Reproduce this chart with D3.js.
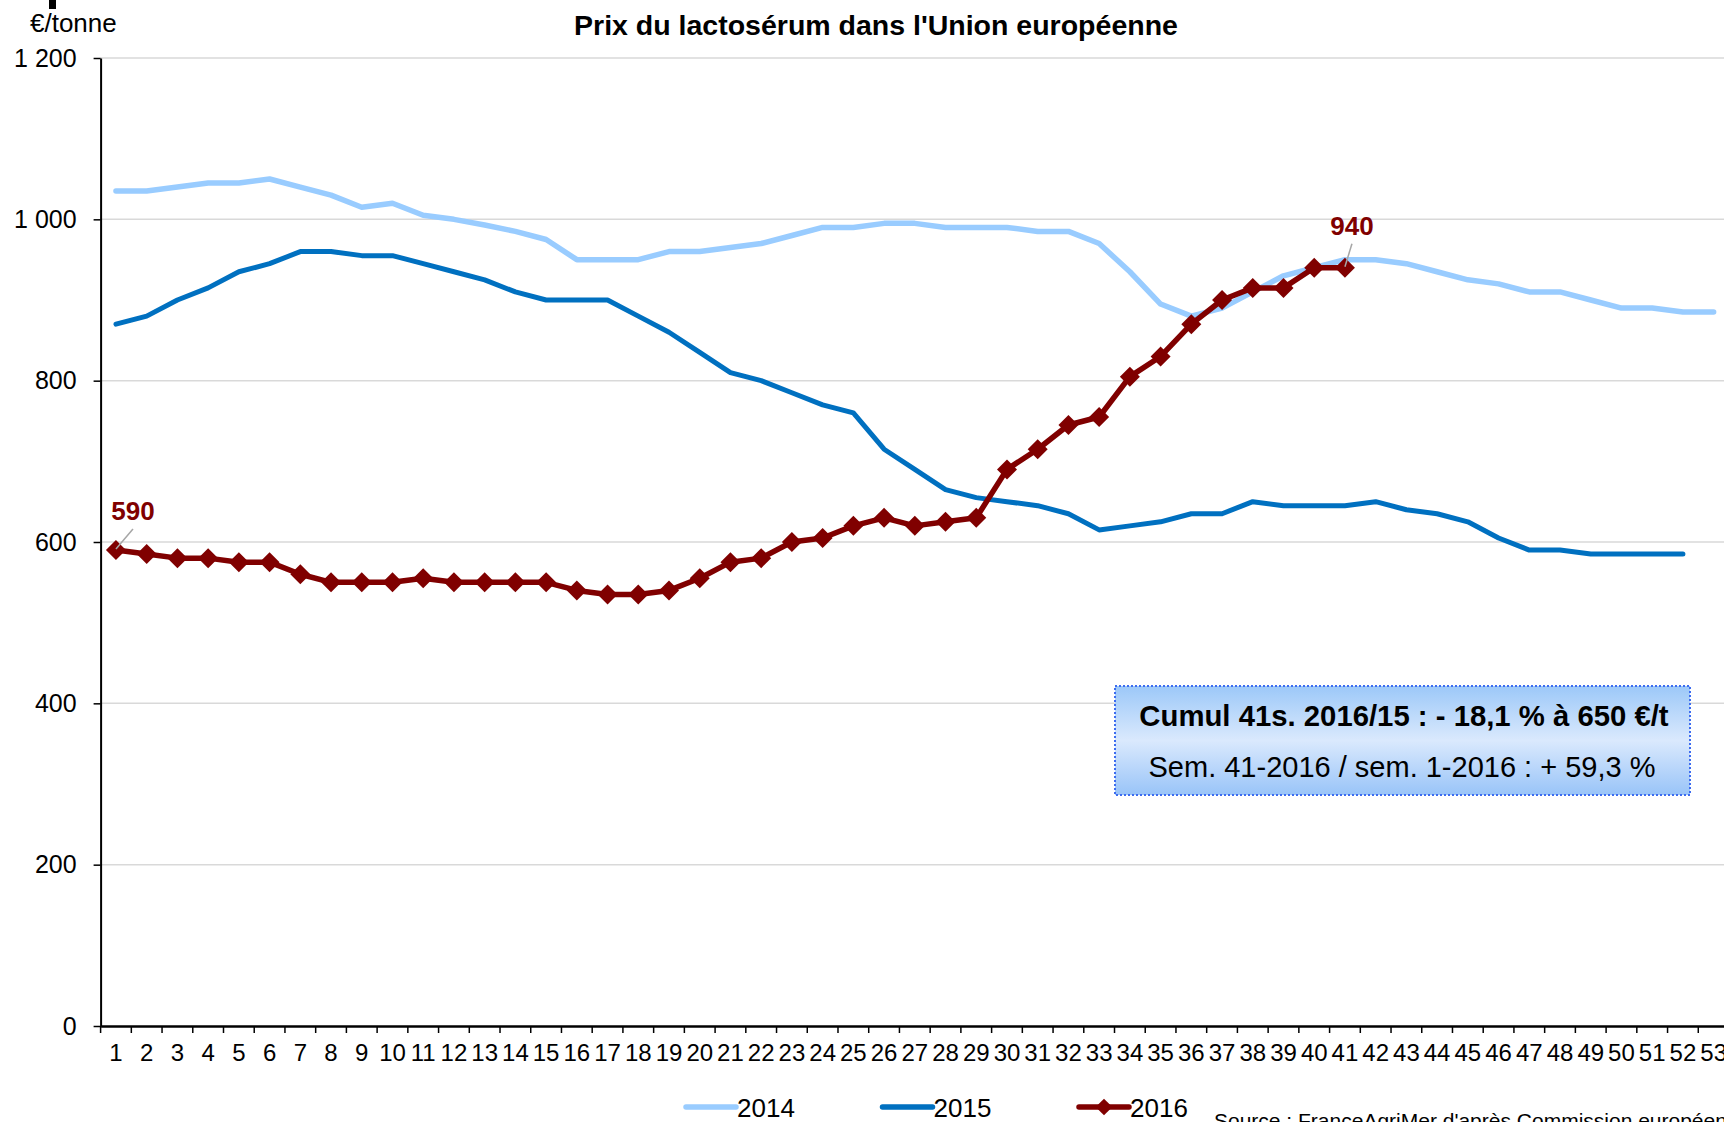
<!DOCTYPE html>
<html>
<head>
<meta charset="utf-8">
<script src="https://cdn.jsdelivr.net/npm/d3@7"></script>
<style>
  body { margin: 0; background: #fff; }
  svg { display: block; font-family: "Liberation Sans", Arial, sans-serif; }
</style>
</head>
<body>
<div id="graph0"></div>
<script>
// semaines 1 a 53
var semaines = [1,2,3,4,5,6,7,8,9,10,11,12,13,14,15,16,17,18,19,20,21,22,23,24,25,26,27,
    28,29,30,31,32,33,34,35,36,37,38,39,40,41,42,43,44,45,46,47,48,49,50,51,52,53]

var prix2014 = [1035,1035,1040,1045,1045,1050,1040,1030,1015,1020,
    1005,1000,993,985,975,950,950,950,960,960,
    965,970,980,990,990,995,995,990,990,990,
    985,985,970,935,895,880,890,910,930,940,
    950,950,945,935,925,920,910,910,900,890,
    890,885,885]

var prix2015 = [870,880,900,915,935,945,960,960,955,955,
    945,935,925,910,900,900,900,880,860,835,
    810,800,785,770,760,715,690,665,655,650,
    645,635,615,620,625,635,635,650,645,645,
    645,650,640,635,625,605,590,590,585,585,
    585,585]

var prix2016 = [590,585,580,580,575,575,560,550,550,550,
    555,550,550,550,550,540,535,535,540,555,
    575,580,600,605,620,630,620,625,630,690,
    715,745,755,805,830,870,900,915,915,940,
    940]

var yTicks = [0, 200, 400, 600, 800, 1000, 1200]
var annees = ['2014', '2015', '2016']
var couleurs = ['#99ccff', '#0070c0', '#800000']

var width = 1724, height = 1122

var svg = d3.select('#graph0').append('svg')
    .attr('width', width).attr('height', height)

var fr = d3.formatLocale({decimal: ',', thousands: ' ', grouping: [3], currency: ['', ' €']})
var fmt = fr.format(',')

// ------- scales --------
var x = d3.scaleBand().domain(semaines).range([100.6, 1729]).padding(0)
var y = d3.scaleLinear().domain([0, 1200]).range([1026, 58])
var cx = function(i) { return x(semaines[i]) + x.bandwidth() / 2 }

// bout de titre coupe en haut
svg.append('rect').attr('x', 49).attr('y', 0).attr('width', 7).attr('height', 9).attr('fill', '#000')

// ------- grid --------
svg.append('g').selectAll('line')
    .data(yTicks.filter(function(d) { return d > 0 }))
    .enter().append('line')
    .attr('x1', x.range()[0]).attr('x2', x.range()[1])
    .attr('y1', function(d) { return y(d) }).attr('y2', function(d) { return y(d) })
    .attr('stroke', '#d9d9d9').attr('stroke-width', 1.5)

// ------- axes --------
var yAxis = svg.append('g')
    .attr('transform', 'translate(' + x.range()[0] + ',0)')
    .call(d3.axisLeft(y).tickValues(yTicks).tickFormat(fmt).tickSize(7).tickSizeOuter(0).tickPadding(17))
yAxis.select('.domain').attr('stroke', '#000').attr('stroke-width', 2)
yAxis.selectAll('.tick line').attr('stroke', '#000').attr('stroke-width', 1.5)
yAxis.selectAll('text').attr('font-size', 25).attr('fill', '#000')
    .attr('font-family', '"Liberation Sans", Arial, sans-serif')

var xAxis = svg.append('g')
    .attr('transform', 'translate(0,' + y(0) + ')')
    .call(d3.axisBottom(x).tickSize(0).tickSizeOuter(0).tickPadding(18))
xAxis.select('.domain').attr('stroke', '#000').attr('stroke-width', 2.5)
xAxis.selectAll('text').attr('font-size', 24).attr('fill', '#000')
    .attr('font-family', '"Liberation Sans", Arial, sans-serif')

// ticks entre les semaines
svg.append('g').selectAll('line')
    .data(semaines)
    .enter().append('line')
    .attr('x1', function(d) { return x(d) }).attr('x2', function(d) { return x(d) })
    .attr('y1', y(0)).attr('y2', y(0) + 7)
    .attr('stroke', '#000').attr('stroke-width', 1.5)

// ------- lines --------
var line = d3.line()
    .x(function(d, i) { return cx(i) })
    .y(function(d) { return y(d) })

var series = [prix2014, prix2015, prix2016]
var epaisseur = [5.5, 5, 5.5]

series.forEach(function(s, k) {
    svg.append('path')
        .datum(s)
        .attr('d', line)
        .attr('fill', 'none')
        .attr('stroke', couleurs[k])
        .attr('stroke-width', epaisseur[k])
        .attr('stroke-linejoin', 'round')
        .attr('stroke-linecap', 'round')
})

var losange = d3.symbol().type(d3.symbolSquare).size(200)

svg.append('g').selectAll('path')
    .data(prix2016)
    .enter().append('path')
    .attr('d', losange)
    .attr('transform', function(d, i) { return 'translate(' + cx(i) + ',' + y(d) + ')rotate(45)' })
    .attr('fill', couleurs[2])

// ------- etiquettes --------
var labels = [{i: 0, dx: 17, dy: -30}, {i: 40, dx: 7, dy: -33}]
labels.forEach(function(l) {
    var px = cx(l.i), py = y(prix2016[l.i])
    svg.append('line')
        .attr('x1', px).attr('y1', py - 1)
        .attr('x2', px + l.dx).attr('y2', py + l.dy + 9)
        .attr('stroke', '#a6a6a6').attr('stroke-width', 1.5)
    svg.append('text')
        .attr('x', px + l.dx).attr('y', py + l.dy)
        .attr('text-anchor', 'middle')
        .attr('font-size', 26).attr('font-weight', 'bold')
        .attr('fill', couleurs[2])
        .text(fmt(prix2016[l.i]))
})

// ------- titres --------
svg.append('text')
    .attr('x', 876).attr('y', 35)
    .attr('text-anchor', 'middle')
    .attr('font-size', 28.5).attr('font-weight', 'bold')
    .text("Prix du lactosérum dans l'Union européenne")

svg.append('text')
    .attr('x', 30).attr('y', 32)
    .attr('font-size', 26)
    .text('€/tonne')

// ------- encadre --------
var defs = svg.append('defs')
var grad = defs.append('linearGradient').attr('id', 'bleu')
    .attr('x1', 0).attr('y1', 0).attr('x2', 0).attr('y2', 1)
grad.append('stop').attr('offset', '0%').attr('stop-color', '#9cc8f8')
grad.append('stop').attr('offset', '50%').attr('stop-color', '#dae9fd')
grad.append('stop').attr('offset', '100%').attr('stop-color', '#99c4f8')

svg.append('rect')
    .attr('x', 1115).attr('y', 686).attr('width', 575).attr('height', 109)
    .attr('fill', 'url(#bleu)')
    .attr('stroke', '#3d6cf0').attr('stroke-width', 2).attr('stroke-dasharray', '2,2')

svg.append('text')
    .attr('x', 1404).attr('y', 726)
    .attr('text-anchor', 'middle')
    .attr('font-size', 29.3).attr('font-weight', 'bold')
    .text('Cumul 41s. 2016/15 : - 18,1 % à 650 €/t')

svg.append('text')
    .attr('x', 1402).attr('y', 777)
    .attr('text-anchor', 'middle')
    .attr('font-size', 29)
    .text('Sem. 41-2016 / sem. 1-2016 : + 59,3 %')

// ------- legende --------
var legend = svg.append('g')
    .selectAll('g')
    .data(annees)
    .enter().append('g')
    .attr('transform', function(d, i) { return 'translate(' + (686 + i * 196.5) + ',1107)' })

legend.append('line')
    .attr('x1', 0).attr('x2', 50)
    .attr('stroke', function(d, i) { return couleurs[i] })
    .attr('stroke-width', 5.5)
    .attr('stroke-linecap', 'round')

legend.filter(function(d) { return d == '2016' })
    .append('path')
    .attr('d', d3.symbol().type(d3.symbolSquare).size(140))
    .attr('transform', 'translate(25,0)rotate(45)')
    .attr('fill', couleurs[2])

legend.append('text')
    .attr('x', 51).attr('y', 10)
    .attr('font-size', 26)
    .text(function(d) { return d })

svg.append('text')
    .attr('x', 1214).attr('y', 1128)
    .attr('font-size', 21)
    .text("Source : FranceAgriMer d'après Commission européenne")
</script>
</body>
</html>
